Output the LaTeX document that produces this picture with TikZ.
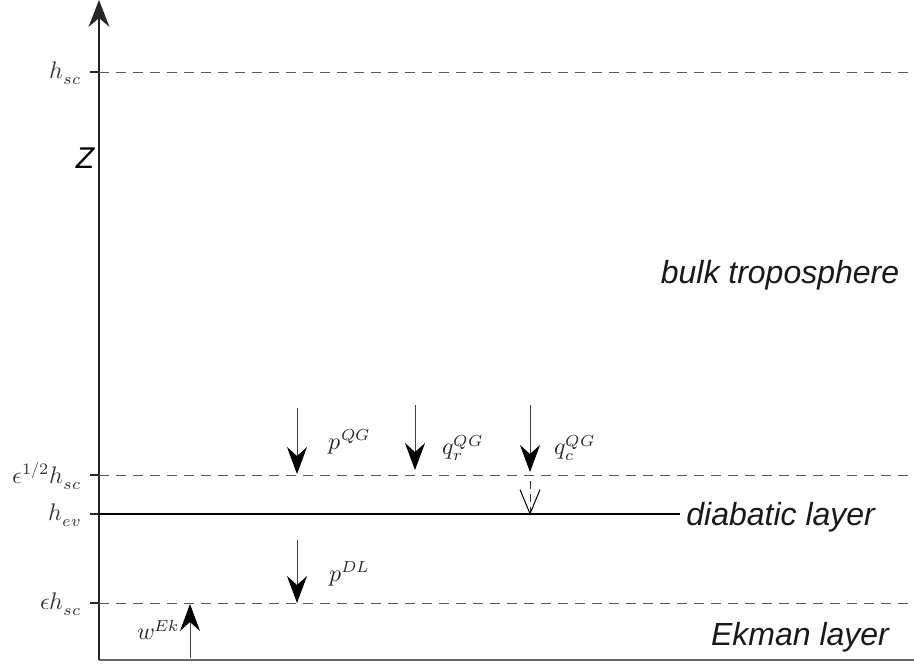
\documentclass[tikz,border=0pt]{standalone}
\usepackage{fontspec}
\usepackage{unicode-math}
\setmathfont{Latin Modern Math}
\newfontfamily\labfont{Liberation Sans}
\usetikzlibrary{arrows.meta}
\begin{document}
\begin{tikzpicture}[x=0.5pt,y=-0.5pt,
  axisline/.style={line width=0.6pt, black!85},
  baseline/.style={line width=1pt, black!60},
  levdash/.style={line width=0.5pt, black!65, dash pattern=on 5pt off 3.5pt},
  levsolid/.style={line width=0.6pt, black},
  tick/.style={line width=0.6pt, black!85},
  flux/.style={line width=0.5pt, black!75, -{Stealth[length=13.5pt,width=10pt,inset=4.5pt,black]}},
  dflux/.style={line width=0.5pt, black!80, dash pattern=on 4pt off 2.5pt, -{Straight Barb[length=12pt,width=10pt,black]}},
  leftlab/.style={anchor=east, inner sep=0pt, font=\fontsize{12}{14}\selectfont, text=black!80},
  mlab/.style={inner sep=0pt, font=\fontsize{12}{14}\selectfont, text=black!85},
  layerlab/.style={inner sep=0pt, font=\labfont\itshape\fontsize{16}{18}\selectfont, text=black!90}]
\useasboundingbox (0,0) rectangle (914,666);
% axes
\coordinate (O) at (99,660);
\coordinate (Top) at (99,0);
\coordinate (R) at (914,660);
\draw[baseline] (O) -- (R);
\draw[axisline, -{Stealth[length=13.5pt,width=10.5pt,inset=4.5pt]}] (O) -- (Top);
\node[inner sep=0pt, font=\labfont\itshape\fontsize{15}{17}\selectfont] (z) at (85,158) {Z};
% levels
\coordinate (hscL) at (90,72);  \coordinate (hscR) at (914,72);
\coordinate (ehalfL) at (90,475); \coordinate (ehalfR) at (914,475);
\coordinate (hevL) at (90,514); \coordinate (hevR) at (680,514);
\coordinate (ehL) at (90,603); \coordinate (ehR) at (914,603);
\draw[tick] (hscL) -- (99,72);
\draw[levdash] (99,72) -- (hscR);
\draw[tick] (ehalfL) -- (99,475);
\draw[levdash] (99,475) -- (ehalfR);
\draw[tick] (hevL) -- (99,514);
\draw[levsolid] (99,514) -- (hevR);
\draw[tick] (ehL) -- (99,603);
\draw[levdash] (99,603) -- (ehR);
\node[leftlab] (lhsc) at (82,73) {$h_{sc}$};
\node[leftlab] (lehalf) at (82,476) {$\epsilon^{1/2}h_{sc}$};
\node[leftlab] (lhev) at (82,515) {$h_{ev}$};
\node[leftlab] (leh) at (82,604) {$\epsilon h_{sc}$};
% layer labels
\node[layerlab] (bulk) at (780,275) {bulk troposphere};
\node[layerlab, anchor=west] (diab) at (686,517) {diabatic layer};
\node[layerlab] (ekman) at (800,637) {Ekman layer};
% fluxes
\coordinate (pqg1) at (297,408); \coordinate (pqg2) at (297,474);
\coordinate (qr1) at (415,405); \coordinate (qr2) at (415,470);
\coordinate (qc1) at (530,405); \coordinate (qc2) at (530,472);
\coordinate (qd1) at (530,481); \coordinate (qd2) at (530,515);
\coordinate (pdl1) at (297,540); \coordinate (pdl2) at (297,603);
\coordinate (wek1) at (190,658); \coordinate (wek2) at (190,604);
\draw[flux] (pqg1) -- (pqg2);
\draw[flux] (qr1) -- (qr2);
\draw[flux] (qc1) -- (qc2);
\draw[dflux] (qd1) -- (qd2);
\draw[flux] (pdl1) -- (pdl2);
\draw[flux] (wek1) -- (wek2);
\node[mlab] (lpqg) at (350,442) {$p^{QG}$};
\node[mlab] (lqr) at (463,448) {$q_r^{QG}$};
\node[mlab] (lqc) at (575,448) {$q_c^{QG}$};
\node[mlab] (lpdl) at (350,574) {$p^{DL}$};
\node[mlab] (lwek) at (158,630) {$w^{Ek}$};
\end{tikzpicture}
\end{document}
